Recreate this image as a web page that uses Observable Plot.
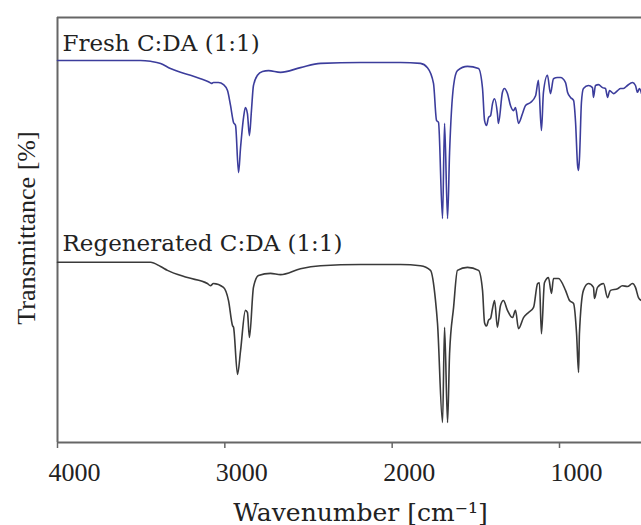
<!DOCTYPE html>
<html>
<head>
<meta charset="utf-8">
<script src="https://cdn.jsdelivr.net/npm/d3@7"></script>
<script src="https://cdn.jsdelivr.net/npm/@observablehq/plot@0.6"></script>
<style>
  html, body { margin: 0; padding: 0; background: #fff; }
  #chart svg { display: block; }
</style>
</head>
<body>
<div id="chart"></div>
<script>
// Wavenumber [cm-1] and transmittance readings (arbitrary % scale, spectra offset)
const freshWavenumber = [4000,3504,3444,3384,3325,3265,3205,3145,3098,3080,3068,3038,3008,2984,2966,2948,2936,2918,2906,2888,2877,2865,2853,2841,2829,2805,2775,2739,2667,2548,2428,2189,1950,1831,1789,1753,1735,1723,1699,1687,1669,1657,1633,1610,1550,1484,1460,1448,1436,1424,1412,1400,1388,1371,1365,1341,1329,1311,1293,1275,1263,1245,1221,1203,1173,1143,1126,1108,1096,1072,1054,1036,1012,994,964,952,934,916,904,892,886,880,869,857,827,803,797,785,767,743,725,713,701,677,653,635,618,594,564,546,534,522,510];
const freshTransmittance = [89.9,89.9,89.7,89.2,88.0,87.1,86.4,85.6,84.9,84.5,84.7,84.7,84.2,82.8,79.3,75.3,74.6,63.5,69.4,76.5,78.8,77.4,72.2,78.1,84.0,86.4,87.3,87.5,87.1,88.2,89.2,89.4,89.4,89.2,88.2,84.5,75.8,75.3,52.7,75.1,52.7,68.2,84.0,87.5,88.5,88.0,83.3,75.8,74.6,76.5,76.9,79.8,80.9,77.4,75.1,82.4,83.3,82.1,79.3,78.1,78.8,75.1,77.4,79.3,80.0,81.6,85.2,73.4,82.4,86.4,82.1,85.6,85.9,85.9,84.7,82.4,81.2,80.5,75.3,65.2,64.0,67.5,80.0,83.3,84.0,83.5,81.2,84.0,84.2,83.5,83.3,81.2,82.8,82.1,82.8,83.3,83.3,84.0,84.7,84.0,82.4,83.3,82.1];

const regenWavenumber = [4000,3444,3384,3343,3223,3104,3086,3068,3008,2978,2954,2948,2924,2906,2877,2865,2853,2829,2799,2727,2667,2548,2428,2189,1950,1831,1771,1741,1729,1699,1687,1669,1657,1633,1610,1550,1484,1460,1448,1436,1424,1412,1400,1388,1371,1353,1335,1311,1281,1263,1245,1215,1185,1155,1131,1120,1108,1090,1066,1048,1036,1006,964,940,916,898,886,881,857,827,797,791,773,737,713,695,653,624,594,564,546,528,510];
const regenTransmittance = [42.4,42.4,41.4,40.5,38.8,37.4,36.9,37.4,36.5,33.4,27.5,27.1,16.0,21.6,31.1,30.6,24.7,36.5,39.3,39.8,39.5,40.9,41.6,41.9,41.9,41.6,40.5,33.4,28.0,4.7,27.1,4.7,20.9,31.8,40.5,41.2,40.5,35.8,28.2,27.4,28.8,29.2,31.6,33.4,27.1,32.2,33.4,31.1,29.4,31.1,26.8,29.4,30.6,31.8,37.4,37.6,25.6,37.6,38.8,35.1,38.6,38.6,35.8,33.4,32.7,25.6,16.5,25.6,35.8,37.4,36.5,33.9,36.5,37.4,34.1,35.8,36.2,36.9,36.7,37.4,36.5,34.1,33.4];

const xTicks = [4000, 3000, 2000, 1000];
const xDomain = [4000, 510];
const yDomain = [0, 100];
const seriesLabels = ["Fresh C:DA (1:1)", "Regenerated C:DA (1:1)"];
const xLabel = "Wavenumber [cm⁻¹]";
const yLabel = "Transmittance [%]";

const fresh = freshWavenumber.map((w, i) => ({w, t: freshTransmittance[i]}));
const regen = regenWavenumber.map((w, i) => ({w, t: regenTransmittance[i]}));

const frameColor = "#666";
const labelFont = "DejaVu Serif";

const chart = Plot.plot({
  width: 641,
  height: 525,
  marginTop: 17,
  marginLeft: 57,
  marginRight: 0,
  marginBottom: 83,
  style: {background: "#fff"},
  x: {domain: xDomain, ticks: xTicks},
  y: {domain: yDomain},
  marks: [
    Plot.ruleY([yDomain[1]], {stroke: frameColor, strokeWidth: 2}),
    Plot.ruleY([yDomain[0]], {stroke: frameColor, strokeWidth: 2}),
    Plot.ruleX([xDomain[0]], {stroke: frameColor, strokeWidth: 2}),
    Plot.line(fresh, {x: "w", y: "t", stroke: "#3c3d9c", strokeWidth: 1.6, curve: "monotone-x"}),
    Plot.line(regen, {x: "w", y: "t", stroke: "#3a3a3a", strokeWidth: 1.6, curve: "monotone-x"}),
    // tick marks
    Plot.axisX({
      ticks: xTicks,
      tickSize: 6,
      tickFormat: () => "",
      stroke: frameColor,
      strokeWidth: 1.5,
      label: null
    }),
    // tick labels
    Plot.axisX({
      ticks: xTicks,
      tickSize: 0,
      tickPadding: 20,
      dx: 17,
      tickFormat: d => String(d),
      fontSize: 26,
      fontFamily: "Liberation Serif",
      color: "#222",
      label: null
    }),
    Plot.axisY({ticks: [], label: null}),
    Plot.text([seriesLabels[0]], {text: d => d, frameAnchor: "top-left", dx: 5, dy: 33, textAnchor: "start", lineAnchor: "bottom", fontSize: 23, fontFamily: labelFont, fill: "#222"}),
    Plot.text([seriesLabels[1]], {text: d => d, frameAnchor: "top-left", dx: 5, dy: 233, textAnchor: "start", lineAnchor: "bottom", fontSize: 23, fontFamily: labelFont, fill: "#222"}),
    Plot.text([xLabel], {text: d => d, frameAnchor: "bottom", dx: 11, dy: 78, textAnchor: "middle", lineAnchor: "bottom", fontSize: 25, fontFamily: labelFont, fill: "#222"}),
    Plot.text([yLabel], {text: d => d, frameAnchor: "left", dx: -23, dy: -2, rotate: -90, textAnchor: "middle", lineAnchor: "bottom", fontSize: 26, fontFamily: "Liberation Serif", fill: "#222"})
  ]
});
document.getElementById("chart").appendChild(chart);
</script>
</body>
</html>
